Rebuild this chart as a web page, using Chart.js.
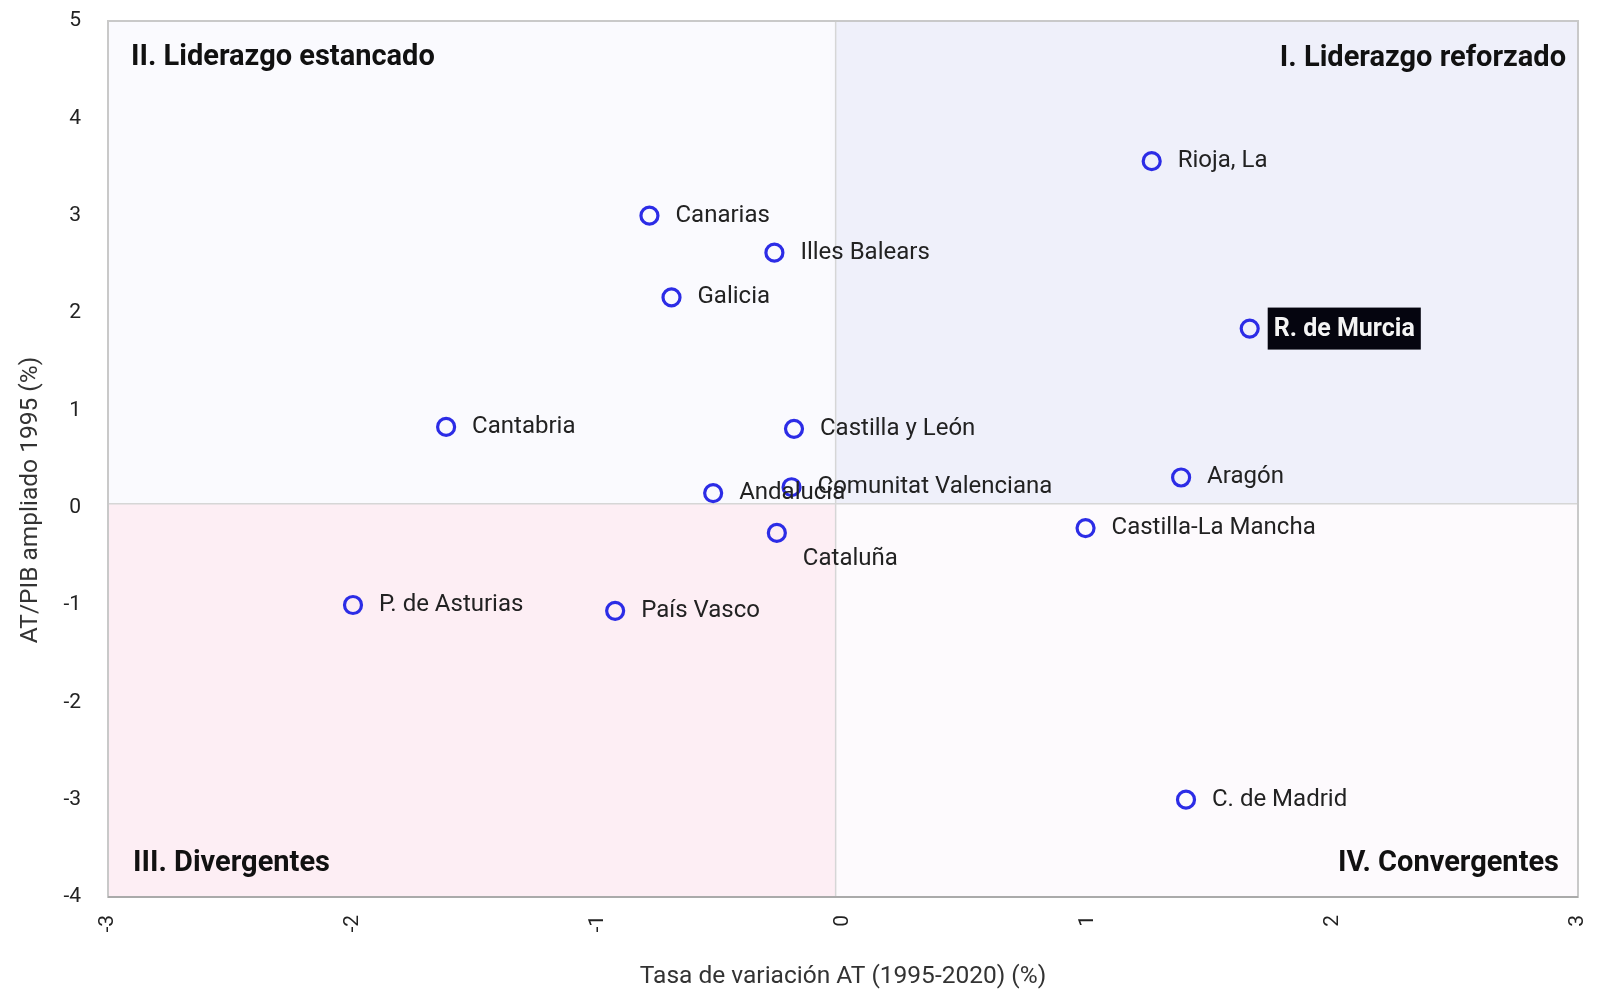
<!DOCTYPE html>
<html>
<head>
<meta charset="utf-8">
<script src="https://cdn.jsdelivr.net/npm/chart.js@4.4.1/dist/chart.umd.min.js"></script>
<style>
  html, body { margin: 0; padding: 0; background: #fff; }
  #wrap { width: 1608px; height: 989px; }
</style>
</head>
<body>
<div id="wrap"><canvas id="chart"></canvas></div>
<script>
// data
const regions = ["Rioja, La", "Canarias", "Illes Balears", "Galicia", "R. de Murcia",
  "Cantabria", "Castilla y León", "Comunitat Valenciana", "Andalucía", "Aragón",
  "Castilla-La Mancha", "Cataluña", "P. de Asturias", "País Vasco", "C. de Madrid"];
const tasaVariacion = [1.26, -0.79, -0.28, -0.70, 1.66, -1.62, -0.20, -0.21, -0.53, 1.38,
  0.99, -0.27, -2.00, -0.93, 1.40];
const atPibAmpliado = [3.56, 3.00, 2.62, 2.16, 1.84, 0.83, 0.81, 0.21, 0.15, 0.31,
  -0.21, -0.26, -1.00, -1.06, -3.00];
const xTicks = [-3, -2, -1, 0, 1, 2, 3];
const yTicks = [-4, -3, -2, -1, 0, 1, 2, 3, 4, 5];
// quadrant dividers (slightly off zero in the original)
const dividerX = -0.03;
const dividerY = 0.04;
const quadrantNames = ["I. Liderazgo reforzado", "II. Liderazgo estancado", "III. Divergentes", "IV. Convergentes"];
const highlight = "R. de Murcia";

Chart.defaults.font.family = "Roboto, 'Noto Sans', sans-serif";

const quadrantPlugin = {
  id: "quadrants",
  beforeDatasetsDraw(chart) {
    const { ctx, chartArea: a, scales } = chart;
    const cx = scales.x.getPixelForValue(dividerX);
    const cy = scales.y.getPixelForValue(dividerY);
    ctx.save();
    ctx.fillStyle = "#fafafe"; ctx.fillRect(a.left, a.top, cx - a.left, cy - a.top);
    ctx.fillStyle = "#eff0fa"; ctx.fillRect(cx, a.top, a.right - cx, cy - a.top);
    ctx.fillStyle = "#fdeef4"; ctx.fillRect(a.left, cy, cx - a.left, a.bottom - cy);
    ctx.fillStyle = "#fdfafd"; ctx.fillRect(cx, cy, a.right - cx, a.bottom - cy);
    ctx.strokeStyle = "#d6d6d6"; ctx.lineWidth = 1.5;
    ctx.beginPath();
    ctx.moveTo(cx, a.top); ctx.lineTo(cx, a.bottom);
    ctx.moveTo(a.left, cy); ctx.lineTo(a.right, cy);
    ctx.stroke();
    ctx.strokeStyle = "#c9c9c9"; ctx.lineWidth = 2;
    ctx.strokeRect(a.left, a.top, a.right - a.left, a.bottom - a.top);
    ctx.strokeStyle = "#aaaaaa";
    ctx.beginPath(); ctx.moveTo(a.left, a.bottom); ctx.lineTo(a.right, a.bottom); ctx.stroke();

    ctx.fillStyle = "#111";
    ctx.font = "bold 29px Roboto";
    ctx.textBaseline = "middle";
    ctx.textAlign = "right";
    ctx.fillText(quadrantNames[0], a.right - 12, a.top + 38);
    ctx.fillText(quadrantNames[3], a.right - 19, a.bottom - 33);
    ctx.textAlign = "left";
    ctx.fillText(quadrantNames[1], a.left + 23, a.top + 37);
    ctx.fillText(quadrantNames[2], a.left + 25, a.bottom - 33);
    ctx.restore();
  },
  afterDatasetsDraw(chart) {
    const { ctx } = chart;
    const meta = chart.getDatasetMeta(0);
    ctx.save();
    ctx.textBaseline = "middle";
    ctx.textAlign = "left";
    meta.data.forEach((pt, i) => {
      const name = regions[i];
      if (name === highlight) {
        ctx.font = "bold 25px Roboto";
        const w = ctx.measureText(name).width;
        ctx.fillStyle = "#05050f";
        ctx.fillRect(pt.x + 18, pt.y - 21, w + 12, 42);
        ctx.fillStyle = "#f4f4f4";
        ctx.fillText(name, pt.x + 24, pt.y + 1);
        return;
      }
      ctx.font = "24px Roboto";
      ctx.fillStyle = "#222";
      if (name === "Cataluña") {
        ctx.fillText(name, pt.x + 26, pt.y + 26);
      } else {
        ctx.fillText(name, pt.x + 26, pt.y);
      }
    });
    ctx.restore();
  },
  afterDraw(chart) {
    const { ctx, chartArea: a } = chart;
    ctx.save();
    ctx.fillStyle = "#333";
    ctx.font = "24.5px Roboto";
    ctx.textAlign = "center";
    ctx.textBaseline = "middle";
    ctx.fillText("Tasa de variación AT (1995-2020) (%)", (a.left + a.right) / 2, 977);
    ctx.translate(31, 500);
    ctx.rotate(-Math.PI / 2);
    ctx.fillText("AT/PIB ampliado 1995 (%)", 0, 0);
    ctx.restore();
  }
};

new Chart(document.getElementById("chart"), {
  type: "scatter",
  data: {
    datasets: [{
      label: "Comunidades",
      data: regions.map((r, i) => ({ x: tasaVariacion[i], y: atPibAmpliado[i] })),
      pointStyle: "circle",
      pointRadius: 8.5,
      pointHoverRadius: 8.5,
      borderWidth: 3.2,
      borderColor: "#2c2ce6",
      backgroundColor: "rgba(0,0,0,0)"
    }]
  },
  options: {
    responsive: true,
    maintainAspectRatio: false,
    animation: false,
    layout: { padding: { top: 21, right: 30, left: 0, bottom: 0 } },
    plugins: { legend: { display: false }, tooltip: { enabled: false } },
    scales: {
      x: {
        type: "linear",
        min: xTicks[0],
        max: xTicks[xTicks.length - 1],
        afterBuildTicks(scale) { scale.ticks = xTicks.map(v => ({ value: v })); },
        afterFit(scale) { scale.height = 92; },
        grid: { display: false, drawTicks: true, tickLength: 18 },
        border: { display: false },
        ticks: { color: "#222", font: { size: 21 }, padding: 0, minRotation: 90, maxRotation: 90 }
      },
      y: {
        type: "linear",
        min: yTicks[0],
        max: yTicks[yTicks.length - 1],
        afterBuildTicks(scale) { scale.ticks = yTicks.map(v => ({ value: v })); },
        afterFit(scale) { scale.width = 108; },
        grid: { display: false, drawTicks: true, tickLength: 27 },
        border: { display: false },
        ticks: { color: "#222", font: { size: 21 }, padding: 0 }
      }
    }
  },
  plugins: [quadrantPlugin]
});
</script>
</body>
</html>
